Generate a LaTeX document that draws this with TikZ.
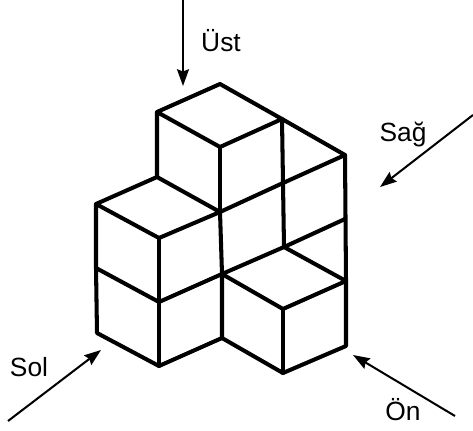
\documentclass[tikz,border=0pt]{standalone}
\usepackage{fontspec}
\setmainfont{Liberation Sans}
\usetikzlibrary{arrows.meta}
\tikzset{
 edge/.style={line width=2.3pt,line join=round,line cap=round},
 view/.style={line width=1.15pt,-{Stealth[length=9.5pt,width=6.8pt,inset=1.2pt]}},
 viewlabel/.style={font=\fontsize{15}{18}\selectfont,inner sep=0pt}
}
\begin{document}
\begin{tikzpicture}[x=0.02cm,y=-0.02cm]
 \useasboundingbox (0,0) rectangle (473,430);
 % upper cube
 \draw[edge](157,177)--(157,112)--(220,84)--(282,119)--(220,147)--(157,112);
 \draw[edge](220,147)--(220,212);
 \draw[edge](282,119)--(345,155)--(346,281);
 \draw[edge](282,119)--(283,183)--(284,247);
 % left stack
 \draw[edge](157,177)--(96,204)--(159,238)--(220,212)--(157,177);
 \draw[edge](96,204)--(96,268)--(97,333)--(159,366)--(222,338)--(222,274)--(220,212);
 \draw[edge](159,238)--(159,302)--(159,366);
 \draw[edge](96,268)--(159,302)--(222,274);
 % back wall
 \draw[edge](220,212)--(283,183)--(345,155);
 \draw[edge](222,274)--(284,247)--(345,219);
 % front cube
 \draw[edge](222,274)--(283,309)--(346,281)--(284,247);
 \draw[edge](283,309)--(283,373);
 \draw[edge](222,338)--(283,373)--(346,346)--(346,281);
 % view arrows
 \coordinate (ustA) at (183,0);
 \coordinate (ustB) at (183,86);
 \coordinate (sagA) at (473,115);
 \coordinate (sagB) at (380,187);
 \coordinate (solA) at (8,421);
 \coordinate (solB) at (101,350);
 \coordinate (onA) at (455,416);
 \coordinate (onB) at (353,355);
 \draw[view](ustA)--(ustB);
 \draw[view](sagA)--(sagB);
 \draw[view](solA)--(solB);
 \draw[view](onA)--(onB);
 \node[viewlabel] (ust) at (221,41) {Üst};
 \node[viewlabel] (sag) at (403,135) {Sağ};
 \node[viewlabel] (sol) at (29,367) {Sol};
 \node[viewlabel] (on) at (403,410) {Ön};
\end{tikzpicture}
\end{document}
